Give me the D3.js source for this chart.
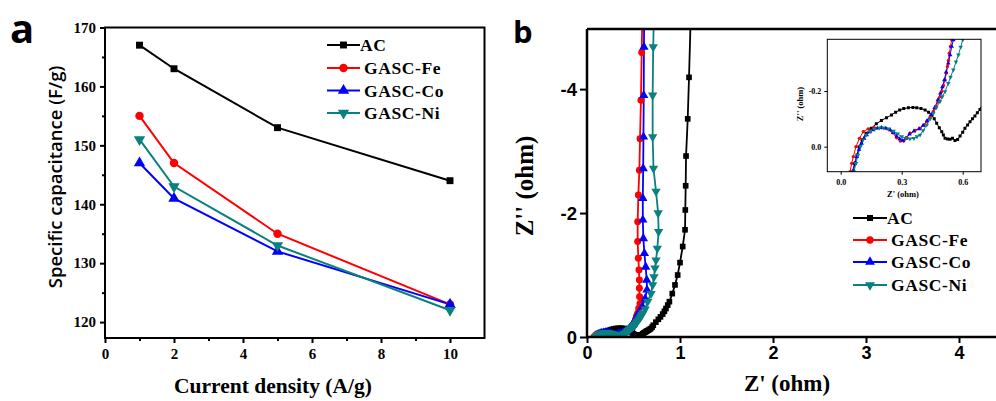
<!DOCTYPE html>
<html><head><meta charset="utf-8">
<script src="https://cdn.jsdelivr.net/npm/d3@7"></script>
<style>body{margin:0;background:#fff}svg{display:block}</style>
</head><body><svg id="c" width="996" height="401"></svg>
<script>
// ---------- DATA ----------
const seriesNames = ["AC", "GASC-Fe", "GASC-Co", "GASC-Ni"];
const currentDensity = [1, 2, 5, 10];
const capAC = [167, 163, 153, 144];
const capFe = [155, 147, 135, 123];
const capCo = [147, 141, 132, 123];
const capNi = [151, 143, 133, 122];
const aXTicks = [0, 2, 4, 6, 8, 10];
const aXMinor = [1, 3, 5, 7, 9];
const aYTicks = [120, 130, 140, 150, 160, 170];
const aYMinor = [125, 135, 145, 155, 165];

// Nyquist data [Z' (ohm), Z'' (ohm)]
const eisAC = [[0.062,0.09],[0.07,0.06],[0.08,0.03],[0.09,0.0],[0.105,-0.025],[0.125,-0.048],[0.15,-0.066],[0.175,-0.082],[0.2,-0.094],[0.225,-0.104],[0.25,-0.114],[0.27,-0.124],[0.29,-0.132],[0.31,-0.137],[0.333,-0.14],[0.355,-0.141],[0.374,-0.14],[0.395,-0.137],[0.415,-0.132],[0.432,-0.124],[0.448,-0.114],[0.46,-0.1],[0.472,-0.084],[0.485,-0.068],[0.497,-0.054],[0.505,-0.042],[0.513,-0.03],[0.525,-0.028],[0.538,-0.027],[0.55,-0.03],[0.562,-0.022],[0.575,-0.026],[0.587,-0.038],[0.6,-0.052],[0.611,-0.066],[0.624,-0.078],[0.636,-0.09],[0.648,-0.1],[0.66,-0.11],[0.672,-0.122],[0.685,-0.134],[0.7,-0.16],[0.713,-0.19],[0.74,-0.24],[0.767,-0.285],[0.79,-0.325],[0.814,-0.37],[0.832,-0.415],[0.849,-0.46],[0.868,-0.515],[0.886,-0.57],[0.917,-0.70],[0.946,-0.84],[0.975,-1.0],[1.0,-1.2],[1.029,-1.46],[1.054,-1.73],[1.057,-2.05],[1.061,-2.44],[1.065,-2.92],[1.083,-3.52],[1.097,-4.19],[1.114,-5.1]];
const eisFe = [[0.046,0.09],[0.054,0.06],[0.062,0.036],[0.075,0.0],[0.092,-0.03],[0.111,-0.054],[0.135,-0.064],[0.165,-0.068],[0.2,-0.068],[0.228,-0.064],[0.255,-0.05],[0.275,-0.032],[0.293,-0.02],[0.31,-0.02],[0.325,-0.032],[0.341,-0.048],[0.365,-0.058],[0.39,-0.066],[0.41,-0.078],[0.423,-0.09],[0.44,-0.108],[0.455,-0.126],[0.468,-0.145],[0.48,-0.162],[0.49,-0.18],[0.497,-0.198],[0.505,-0.22],[0.513,-0.24],[0.52,-0.265],[0.525,-0.288],[0.53,-0.31],[0.534,-0.336],[0.54,-0.36],[0.546,-0.384],[0.556,-0.46],[0.57,-0.54],[0.565,-0.65],[0.563,-0.785],[0.563,-0.92],[0.559,-1.08],[0.552,-1.27],[0.545,-1.54],[0.545,-1.86],[0.552,-2.29],[0.563,-2.69],[0.57,-3.2],[0.58,-3.82],[0.588,-4.59],[0.594,-5.1]];
const eisCo = [[0.057,0.09],[0.068,0.06],[0.079,0.036],[0.09,0.01],[0.103,-0.012],[0.115,-0.03],[0.128,-0.042],[0.143,-0.053],[0.16,-0.06],[0.18,-0.066],[0.2,-0.068],[0.222,-0.066],[0.243,-0.06],[0.26,-0.05],[0.275,-0.038],[0.29,-0.028],[0.305,-0.022],[0.32,-0.03],[0.338,-0.045],[0.36,-0.056],[0.385,-0.064],[0.405,-0.076],[0.425,-0.094],[0.445,-0.116],[0.462,-0.14],[0.478,-0.168],[0.49,-0.192],[0.5,-0.215],[0.51,-0.24],[0.518,-0.268],[0.529,-0.3],[0.538,-0.33],[0.546,-0.36],[0.554,-0.384],[0.595,-0.49],[0.625,-0.62],[0.645,-0.76],[0.642,-0.92],[0.631,-1.13],[0.617,-1.35],[0.606,-1.59],[0.6,-1.89],[0.6,-2.24],[0.604,-2.72],[0.607,-3.23],[0.61,-3.9],[0.612,-4.68],[0.615,-5.1]];
const eisNi = [[0.065,0.09],[0.075,0.06],[0.085,0.03],[0.097,0.0],[0.11,-0.025],[0.125,-0.042],[0.145,-0.055],[0.165,-0.063],[0.19,-0.068],[0.21,-0.068],[0.235,-0.064],[0.26,-0.056],[0.28,-0.046],[0.3,-0.036],[0.32,-0.03],[0.34,-0.028],[0.36,-0.03],[0.375,-0.036],[0.39,-0.042],[0.405,-0.058],[0.423,-0.078],[0.44,-0.1],[0.455,-0.12],[0.47,-0.14],[0.488,-0.162],[0.5,-0.18],[0.513,-0.198],[0.529,-0.228],[0.54,-0.25],[0.554,-0.276],[0.567,-0.305],[0.579,-0.33],[0.59,-0.358],[0.6,-0.384],[0.625,-0.45],[0.652,-0.57],[0.688,-0.70],[0.706,-0.84],[0.72,-0.97],[0.731,-1.11],[0.742,-1.24],[0.756,-1.43],[0.77,-1.70],[0.765,-2.0],[0.742,-2.35],[0.715,-2.72],[0.706,-3.23],[0.706,-3.9],[0.712,-4.68],[0.718,-5.1]];
const bXTicks = [0, 1, 2, 3, 4];
const bYTicks = [0, -2, -4];
const insetXTicks = [0, 0.3, 0.6];
const insetYTicks = [0, -0.2];

// ---------- STYLE ----------
const colors = ["#000000", "#ff0000", "#0000ff", "#0a8080"];
const symbols = [d3.symbolSquare, d3.symbolCircle, d3.symbolTriangle, d3.symbolTriangle];
const rotations = [0, 0, 0, 180];
const serif = "'Liberation Serif','Times New Roman',serif";
const sans = "'Liberation Sans',Arial,sans-serif";
const osans = "'Open Sans','Liberation Sans',sans-serif";

const svg = d3.select("#c");
const defs = svg.append("defs");

function marker(g, i, x, y, size) {
  g.append("path")
    .attr("d", d3.symbol().type(symbols[i]).size(size)())
    .attr("transform", `translate(${x},${y}) rotate(${rotations[i]})`)
    .attr("fill", colors[i]).attr("stroke", "none");
}

// ================= PANEL A =================
const xa = d3.scaleLinear().domain([0, 11]).range([105, 484.5]);
const ya = d3.scaleLinear().domain([117.3, 170]).range([338, 27.5]);
const capSeries = [capAC, capFe, capCo, capNi];

function styleAxis(g, font, size, weight) {
  g.select(".domain").remove();
  g.selectAll(".tick line").attr("stroke", "#000").attr("stroke-width", 2);
  g.selectAll(".tick text").attr("fill", "#000").style("font-family", font)
    .style("font-size", size + "px").style("font-weight", weight);
}

const gaX = svg.append("g").attr("transform", "translate(0,338)")
  .call(d3.axisBottom(xa).tickValues(aXTicks).tickSize(5).tickPadding(5).tickFormat(d3.format("d")));
styleAxis(gaX, serif, 15, "bold");
const gaXm = svg.append("g").attr("transform", "translate(0,338)")
  .call(d3.axisBottom(xa).tickValues(aXMinor).tickSize(3).tickFormat(""));
styleAxis(gaXm, serif, 15, "bold");
const gaY = svg.append("g").attr("transform", "translate(105,0)")
  .call(d3.axisLeft(ya).tickValues(aYTicks).tickSize(5).tickPadding(4).tickFormat(d3.format("d")));
styleAxis(gaY, serif, 15, "bold");
const gaYm = svg.append("g").attr("transform", "translate(105,0)")
  .call(d3.axisLeft(ya).tickValues(aYMinor).tickSize(3).tickFormat(""));
styleAxis(gaYm, serif, 15, "bold");

svg.append("rect").attr("x", xa(0)).attr("y", ya(170)).attr("width", xa(11) - xa(0)).attr("height", ya(117.3) - ya(170))
  .attr("fill", "none").attr("stroke", "#000").attr("stroke-width", 2);

const lineA = d3.line().x((d, i) => xa(currentDensity[i])).y(d => ya(d));
capSeries.forEach((s, i) => {
  svg.append("path").attr("d", lineA(s)).attr("fill", "none").attr("stroke", colors[i]).attr("stroke-width", 2);
});
capSeries.forEach((s, i) => {
  const g = svg.append("g");
  s.forEach((v, j) => marker(g, i, xa(currentDensity[j]), ya(v), i === 0 ? 48 : 56));
});

// legend A
const legA = svg.append("g");
[45, 68, 90.5, 113].forEach((yy, i) => {
  legA.append("line").attr("x1", 327).attr("x2", 360).attr("y1", yy).attr("y2", yy)
    .attr("stroke", colors[i]).attr("stroke-width", 2);
  marker(legA, i, 343.5, yy, i === 0 ? 48 : 56);
  legA.append("text").attr("x", i === 0 ? 360 : 364).attr("y", yy + 6)
    .text(seriesNames[i]).style("font-family", serif).style("font-weight", "bold")
    .style("font-size", "17.5px").style("letter-spacing", "0.6px");
});

svg.append("text").attr("transform", "translate(62,177) rotate(-90)").attr("text-anchor", "middle")
  .text("Specific capacitance (F/g)").style("font-family", osans).style("font-weight", 600).style("font-size", "18.5px");
svg.append("text").attr("x", 273).attr("y", 393).attr("text-anchor", "middle")
  .text("Current density (A/g)").style("font-family", serif).style("font-weight", "bold").style("font-size", "21.5px");
svg.append("text").attr("x", 10).attr("y", 43).text("a")
  .style("font-family", osans).style("font-weight", "bold").style("font-size", "40px");

// ================= PANEL B =================
const xb = d3.scaleLinear().domain([0, 4.4]).range([587, 996.2]);
const yb = d3.scaleLinear().domain([0, -4.97]).range([337, 29]);
const eisSeries = [eisAC, eisFe, eisCo, eisNi];

defs.append("clipPath").attr("id", "clipB").append("rect")
  .attr("x", 587).attr("y", 29).attr("width", 420).attr("height", 308);

const gbX = svg.append("g").attr("transform", "translate(0,337)")
  .call(d3.axisBottom(xb).tickValues(bXTicks).tickSize(6).tickPadding(3).tickFormat(d => String(d)));
styleAxis(gbX, sans, 18, "bold");
const gbY = svg.append("g").attr("transform", "translate(587,0)")
  .call(d3.axisLeft(yb).tickValues(bYTicks).tickSize(7).tickPadding(3).tickFormat(d => String(d)));
styleAxis(gbY, sans, 18.5, "bold");
gbY.selectAll(".tick text").attr("dy", "0.36em");

const lineB = d3.line().x(d => xb(d[0])).y(d => yb(d[1]));
const gB = svg.append("g").attr("clip-path", "url(#clipB)");
eisSeries.forEach((s, i) => {
  gB.append("path").attr("d", lineB(s)).attr("fill", "none").attr("stroke", colors[i]).attr("stroke-width", 1.8);
});
eisSeries.forEach((s, i) => {
  const g = gB.append("g");
  s.forEach(d => marker(g, i, xb(d[0]), yb(d[1]), i === 0 ? 32 : 38));
});

svg.append("path").attr("d", "M587,29V337H1000M587,29H1000")
  .attr("fill", "none").attr("stroke", "#000").attr("stroke-width", 2.5);

svg.append("text").attr("transform", "translate(533,186) rotate(-90)").attr("text-anchor", "middle")
  .text("Z'' (ohm)").style("font-family", serif).style("font-weight", "bold").style("font-size", "25px");
svg.append("text").attr("x", 787).attr("y", 391).attr("text-anchor", "middle")
  .text("Z' (ohm)").style("font-family", serif).style("font-weight", "bold").style("font-size", "23px");
svg.append("text").attr("x", 513).attr("y", 43).text("b")
  .style("font-family", osans).style("font-weight", "bold").style("font-size", "31px");

// ---------- inset ----------
const xi = d3.scaleLinear().domain([-0.066, 0.69]).range([827.3, 981]);
const yi = d3.scaleLinear().domain([0.09, -0.386]).range([171.7, 39.3]);
defs.append("clipPath").attr("id", "clipI").append("rect")
  .attr("x", 827.3).attr("y", 39.3).attr("width", 981 - 827.3).attr("height", 171.7 - 39.3);
svg.append("rect").attr("x", 827.3).attr("y", 39.3).attr("width", 981 - 827.3).attr("height", 171.7 - 39.3)
  .attr("fill", "#fff");
const gI = svg.append("g").attr("clip-path", "url(#clipI)");
const lineI = d3.line().x(d => xi(d[0])).y(d => yi(d[1]));
eisSeries.forEach((s, i) => {
  gI.append("path").attr("d", lineI(s)).attr("fill", "none").attr("stroke", colors[i]).attr("stroke-width", 1);
});
eisSeries.forEach((s, i) => {
  const g = gI.append("g");
  s.forEach(d => marker(g, i, xi(d[0]), yi(d[1]), 9));
});
svg.append("rect").attr("x", 827.3).attr("y", 39.3).attr("width", 981 - 827.3).attr("height", 171.7 - 39.3)
  .attr("fill", "none").attr("stroke", "#000").attr("stroke-width", 1);

function styleInsetAxis(g) {
  g.select(".domain").remove();
  g.selectAll(".tick line").attr("stroke", "#000").attr("stroke-width", 1);
  g.selectAll(".tick text").attr("fill", "#000").style("font-family", serif)
    .style("font-size", "8px").style("font-weight", "bold");
}
const giX = svg.append("g").attr("transform", "translate(0,171.7)")
  .call(d3.axisBottom(xi).tickValues(insetXTicks).tickSize(3).tickPadding(5).tickFormat(d => d.toFixed(1)));
styleInsetAxis(giX);
const giY = svg.append("g").attr("transform", "translate(827.3,0)")
  .call(d3.axisLeft(yi).tickValues(insetYTicks).tickSize(3).tickPadding(3).tickFormat(d => d.toFixed(1)));
styleInsetAxis(giY);
svg.append("text").attr("x", 903).attr("y", 197).attr("text-anchor", "middle")
  .text("Z' (ohm)").style("font-family", serif).style("font-weight", "bold").style("font-size", "8.5px");
svg.append("text").attr("transform", "translate(803,104) rotate(-90)").attr("text-anchor", "middle")
  .text("Z'' (ohm)").style("font-family", serif).style("font-weight", "bold").style("font-size", "8.5px");

// legend B
const legB = svg.append("g");
[218, 240, 262, 285].forEach((yy, i) => {
  legB.append("line").attr("x1", 853).attr("x2", 887).attr("y1", yy).attr("y2", yy)
    .attr("stroke", colors[i]).attr("stroke-width", 2);
  marker(legB, i, 870, yy, i === 0 ? 36 : 42);
  legB.append("text").attr("x", i === 0 ? 887 : 891).attr("y", yy + 6)
    .text(seriesNames[i]).style("font-family", serif).style("font-weight", "bold")
    .style("font-size", "17.5px").style("letter-spacing", "0.6px");
});
</script></body></html>
